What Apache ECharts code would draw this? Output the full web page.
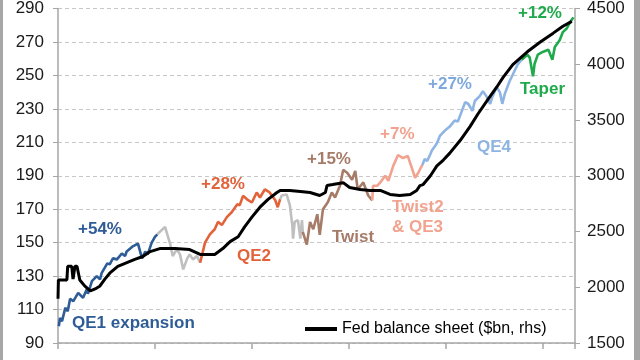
<!DOCTYPE html>
<html>
<head>
<meta charset="utf-8">
<script src="https://cdn.jsdelivr.net/npm/echarts@6/dist/echarts.min.js"></script>
<style>
html,body{margin:0;padding:0;background:#fff;}
#c{width:640px;height:360px;}
</style>
</head>
<body>
<div id="c"></div>
<script>
// x = months since start of chart (Mar 2009)
const qe1Months = [0.1,0.25,0.5,0.9,1.2,1.5,1.9,2.5,3.1,3.6,3.7,4.2,4.8,5.2,5.4,6.1,6.4,6.8,7.3,7.9,8.3,8.5,9.2,9.9,10.4,10.8,11.1,11.6,12.0,12.3];
const qe1Values = [100,105,103,111,109,116.5,115,120,117,122.4,119.4,127,130,128,131.8,137.6,137,140.6,140,143.5,142,144.7,147.6,149.4,140.6,144.7,143,150,153.5,155];

const gap1Months = [12.3,13.25,13.9,14.2,14.7,15.1,15.5,16.0,16.3,16.7,17.2,17.6];
const gap1Values = [155,159.4,149,142,146,143,134,140.6,143,140,142,138];

const qe2Months = [17.6,18.2,18.8,19.4,19.8,20.3,20.9,21.5,22.2,22.5,22.9,23.4,24.0,24.6,25.0,25.6,26.2,26.9,27.2,27.5];
const qe2Values = [138,150,155,158,162.4,160.6,165.3,168.2,173,172.4,178,175.9,174,180,177,181.8,180,175.3,171.2,176];

const gap2Months = [27.5,27.7,28.3,28.7,29.0,29.1,29.3,29.7,30.0,30.2,30.3];
const gap2Values = [176,178.2,178.8,172.4,160.6,152.4,162.4,163.5,152.4,163.5,156.5];

const twistMonths = [30.3,30.8,31.2,31.6,32.1,32.4,32.8,33.4,33.9,34.3,34.9,35.3,35.8,36.4,36.8,37.1,37.8,38.4,38.9];
const twistValues = [156.5,148.8,162.4,158,167,154.7,170,174.1,180,177,184,193.5,191.8,187.6,192.9,181.8,186,178.2,175.3];

const twist2Months = [38.9,39.0,39.5,39.9,40.5,40.9,41.5,42.1,42.7,43.3,43.8,44.2,44.6,45.1];
const twist2Values = [175.3,184,184,186,190,187,195.9,202.4,200.6,201.8,194.7,188.8,191.8,196.5];

const qe4Months = [45.1,45.4,45.7,46.1,46.3,46.7,46.9,47.3,47.9,48.5,49.1,49.5,50.0,50.4,50.8,51.3,51.6,52.2,52.6,53.1,53.5,53.8,54.3,54.7,55.0,55.3,55.9,56.6,56.9,57.4];
const qe4Values = [196.5,200,198.8,203,205.3,208,209.4,214,217,219.4,223,222.4,228.8,234,232.9,228.8,234.7,237.6,240.6,237,233,237.6,243,240,233,238.8,246.5,253.5,256.5,259.4];

const taperMonths = [57.4,58.1,58.4,58.8,59.0,59.4,60.0,60.7,61.2,61.5,62.1,62.5,63.0,63.4,63.8];
const taperValues = [259.4,262.4,260.6,249.4,257,262.4,264,265.3,259.4,267,271,275.9,278.2,281.8,284.7];

const fedMonths = [0,0.05,1.1,1.2,1.7,1.86,2.1,2.35,2.7,3.3,4.0,4.6,5.2,5.8,6.4,7.4,8.3,9.5,10.5,11.4,12.6,14.5,16.3,17.6,19.4,20.4,21.3,22.3,23.1,24.0,25.0,26.0,27.1,27.5,28.7,30.0,31.2,32.4,33.1,33.3,34.0,35.3,36.1,37.4,38.6,39.9,41.1,42.3,43.6,44.4,44.8,45.2,46.1,46.9,47.7,48.5,49.8,51.0,52.0,53.1,54.3,55.1,56.3,58.1,59.7,61.3,62.5,63.6];
const fedValues = [1897,2065,2065,2188,2188,2073,2188,2188,2065,2012,1967,1985,2012,2073,2126,2188,2215,2250,2276,2320,2347,2347,2338,2294,2294,2347,2409,2453,2541,2629,2718,2788,2850,2868,2868,2859,2850,2823,2850,2912,2921,2938,2894,2876,2868,2868,2832,2823,2832,2868,2912,2921,3000,3088,3141,3203,3318,3441,3556,3671,3794,3882,3997,4112,4200,4279,4341,4385];

const leftTicks = [90,290,20];
const rightTicks = [1500,4500,500];

const zip = (a,b) => a.map((m,i)=>[m,b[i]]);
const FONT = '"Liberation Sans", Arial, sans-serif';

const segs = [
  {n:'QE1', m:qe1Months, v:qe1Values, c:'#2E5C96'},
  {n:'g1', m:gap1Months, v:gap1Values, c:'#BFBFBF'},
  {n:'QE2', m:qe2Months, v:qe2Values, c:'#E2623A'},
  {n:'g2', m:gap2Months, v:gap2Values, c:'#BFBFBF'},
  {n:'Twist', m:twistMonths, v:twistValues, c:'#A67B68'},
  {n:'Twist2', m:twist2Months, v:twist2Values, c:'#F2A38F'},
  {n:'QE4', m:qe4Months, v:qe4Values, c:'#8EB4E3'},
  {n:'Taper', m:taperMonths, v:taperValues, c:'#1FAA4B'}
];

const series = segs.map(s=>({
  name:s.n, type:'line', yAxisIndex:0, data:zip(s.m,s.v), showSymbol:false, symbol:'none',
  lineStyle:{color:s.c,width:2.6}, itemStyle:{color:s.c}, z:3, silent:true, animation:false
}));
series.push({
  name:'Fed balance sheet ($bn, rhs)', type:'line', yAxisIndex:1, data:zip(fedMonths,fedValues),
  showSymbol:false, symbol:'none', lineStyle:{color:'#000',width:3}, itemStyle:{color:'#000'}, z:4, animation:false
});

function txt(x,y,t,c){
  return {type:'text', left:x, top:y, z:10, style:{text:t, fill:c, font:'bold 17px '+FONT}};
}

const chart = echarts.init(document.getElementById('c'), null, {renderer:'canvas'});
chart.setOption({
  animation:false,
  backgroundColor:'#fff',
  grid:{left:58, right:65, top:3, bottom:17, containLabel:false},
  legend:{data:['Fed balance sheet ($bn, rhs)'], left:300, top:316, icon:'rect', itemWidth:32, itemHeight:4, itemGap:8,
    textStyle:{fontFamily:FONT, fontSize:16, color:'#000'}},
  xAxis:{type:'value', min:0, max:64, interval:12,
    axisLine:{lineStyle:{color:'#A6A6A6',width:1.5}},
    axisTick:{show:true, length:6, lineStyle:{color:'#A6A6A6',width:1.5}},
    axisLabel:{show:false}, splitLine:{show:false}},
  yAxis:[
    {type:'value', min:leftTicks[0], max:leftTicks[1], interval:leftTicks[2], position:'left',
      axisLine:{show:true, lineStyle:{color:'#A6A6A6',width:1.5}},
      axisTick:{show:true, length:5, lineStyle:{color:'#A6A6A6'}},
      axisLabel:{fontFamily:FONT, fontSize:17, color:'#1a1a1a', margin:14, verticalAlignMaxLabel:'middle', verticalAlignMinLabel:'middle'},
      splitLine:{show:true, lineStyle:{color:'#C8C8C8', type:[4,3], width:1}}},
    {type:'value', min:rightTicks[0], max:rightTicks[1], interval:rightTicks[2], position:'right',
      axisLine:{show:true, lineStyle:{color:'#A6A6A6',width:1.5}},
      axisTick:{show:true, length:5, lineStyle:{color:'#A6A6A6'}},
      axisLabel:{fontFamily:FONT, fontSize:17, color:'#1a1a1a', margin:12, formatter:v=>String(v), verticalAlignMaxLabel:'middle', verticalAlignMinLabel:'middle'},
      splitLine:{show:false}}
  ],
  graphic:[
    {type:'rect', left:0, top:0, shape:{width:3,height:360}, style:{fill:'#A6A6A6'}},
    {type:'rect', left:634, top:0, shape:{width:6,height:360}, style:{fill:'#A6A6A6'}},
    txt(78,221,'+54%','#2E5C96'),
    txt(72,315,'QE1 expansion','#2E5C96'),
    txt(201,176,'+28%','#E2623A'),
    txt(237,248,'QE2','#E2623A'),
    txt(307,151,'+15%','#A67B68'),
    txt(332,229,'Twist','#A67B68'),
    txt(380,126,'+7%','#F2A38F'),
    txt(392,199,'Twist2','#F2A38F'),
    txt(392,219,'& QE3','#F2A38F'),
    txt(428,76,'+27%','#7EA9DE'),
    txt(477,139,'QE4','#8EB4E3'),
    txt(518,5,'+12%','#1FAA4B'),
    txt(520,81,'Taper','#1FAA4B')
  ],
  series:series
});
</script>
</body>
</html>
